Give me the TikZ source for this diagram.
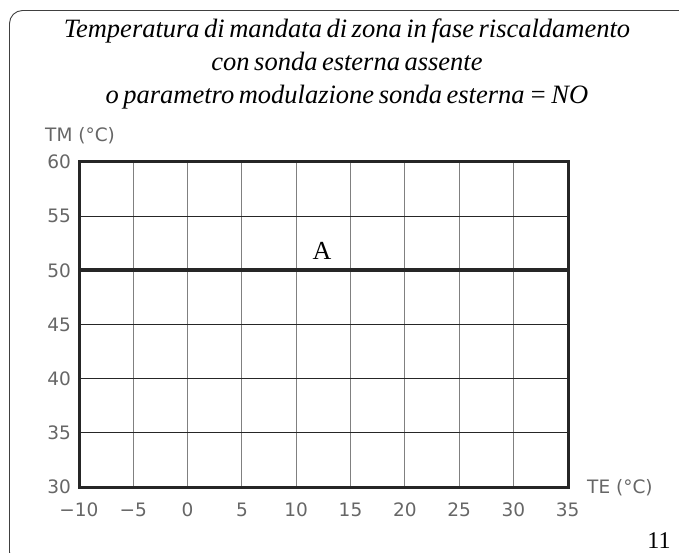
\documentclass[tikz,border=0pt]{standalone}
\usepackage{fontspec}
\setmainfont{Liberation Serif}
\setsansfont{DejaVu Sans}
\newcommand{\tightsp}{\spaceskip=0.17em\relax}
\begin{document}
\begin{tikzpicture}[x=1pt,y=-1pt,
  frame/.style={draw=black!75,line width=0.9pt,rounded corners=13pt},
  vgrid/.style={draw=black!50,line width=1.1pt},
  hgrid/.style={draw=black!85,line width=0.9pt},
  border/.style={draw=black!85,line width=3pt},
  curveA/.style={draw=black!85,line width=4.2pt},
  ticklab/.style={font=\sffamily\fontsize{18.5}{18.5}\selectfont,text=black!60,inner sep=0pt},
  title/.style={font=\itshape\fontsize{26.5}{26.5}\selectfont,inner sep=0pt,anchor=base},
  serifnum/.style={font=\fontsize{24}{24}\selectfont,inner sep=0pt}]
\useasboundingbox (0,0) rectangle (679,553);
\begin{scope}
\clip (0,0) rectangle (679,553);
\path[frame] (9.5,10.5) rectangle (720,565);
\end{scope}
% title
\node[title] (t1) at (347,38) {\tightsp Temperatura di mandata di zona in fase riscaldamento};
\node[title] (t2) at (347,71) {\tightsp con sonda esterna assente};
\node[title] (t3) at (347,104) {\tightsp o parametro modulazione sonda esterna = NO};
% grid
\foreach \i in {1,...,8} \draw[vgrid] (79+54.3*\i,162) -- (79+54.3*\i,487);
\foreach \j in {1,...,5} \draw[hgrid] (79,162+54.17*\j) -- (568,162+54.17*\j);
\draw[border] (79,162) rectangle (568,487);
\draw[curveA] (79,270.3) -- (568,270.3);
% labels
\foreach \v [count=\j from 0] in {60,55,50,45,40,35,30}
  \node[ticklab,anchor=east] (y\j) at (71,162+54.17*\j) {\v};
\foreach \v [count=\i from 0] in {−10,−5,0,5,10,15,20,25,30,35}
  \node[ticklab] (x\i) at (79+54.3*\i,510) {\v};
\node[ticklab,anchor=west] (tm) at (45,136) {TM (°C)};
\node[ticklab,anchor=west] (te) at (587,488) {TE (°C)};
\node[serifnum,font=\fontsize{26}{26}\selectfont] (A) at (322,250.5) {A};
\node[serifnum] (pg) at (659,541) {11};
\end{tikzpicture}
\end{document}
